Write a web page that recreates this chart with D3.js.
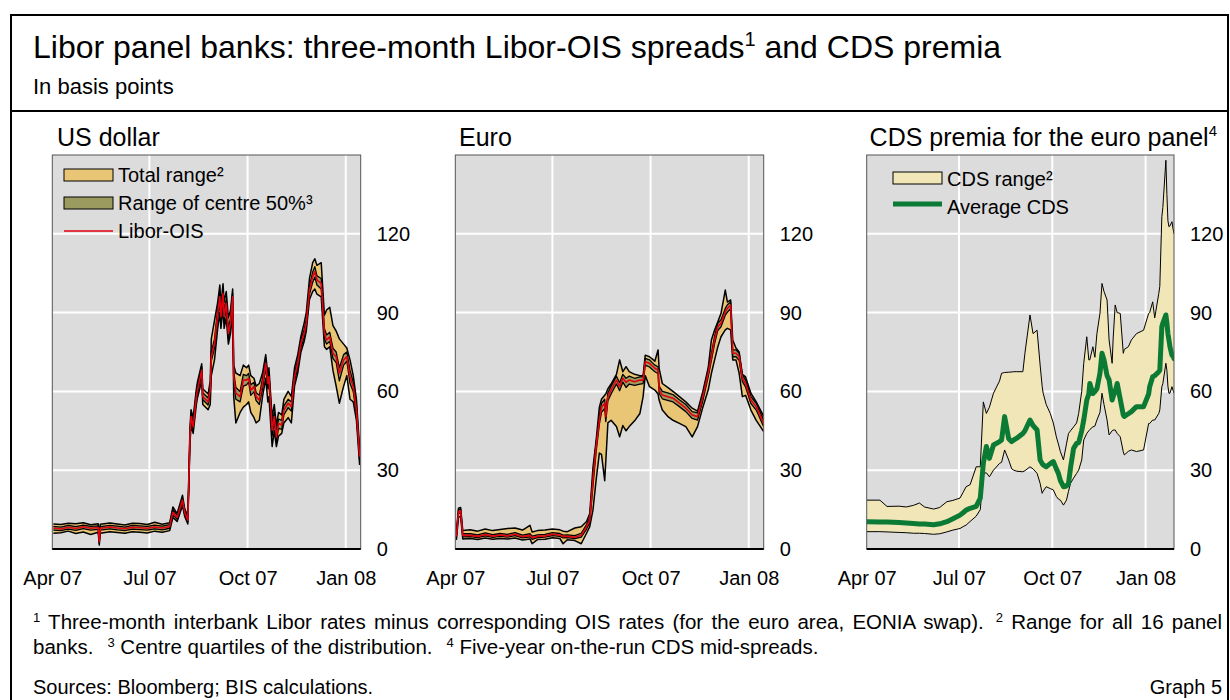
<!DOCTYPE html>
<html>
<head>
<meta charset="utf-8">
<script src="https://cdn.jsdelivr.net/npm/d3@7"></script>
<style>
  body { margin: 0; background: #fff; }
  svg text { font-family: "Liberation Sans", Arial, Helvetica, sans-serif; fill: #000; }
</style>
</head>
<body>
<svg id="chart" width="1230" height="700"></svg>
<script>
// ---- US dollar: three-month Libor-OIS, total range and centre 50% (bp) ----
const usDates = ["2007-04-02","2007-04-09","2007-04-16","2007-04-23","2007-04-30","2007-05-07","2007-05-14","2007-05-15","2007-05-16","2007-05-25",
  "2007-06-01","2007-06-08","2007-06-15","2007-06-22","2007-06-29","2007-07-06","2007-07-13","2007-07-20","2007-07-23","2007-07-27",
  "2007-08-01","2007-08-03","2007-08-06","2007-08-08","2007-08-09","2007-08-11","2007-08-14","2007-08-15","2007-08-19","2007-08-20",
  "2007-08-25","2007-08-27","2007-08-28","2007-08-31","2007-09-03","2007-09-05","2007-09-06","2007-09-08","2007-09-09","2007-09-11",
  "2007-09-13","2007-09-15","2007-09-17","2007-09-18","2007-09-20","2007-09-24","2007-09-27","2007-09-30","2007-10-02","2007-10-04",
  "2007-10-07","2007-10-09","2007-10-12","2007-10-15","2007-10-18","2007-10-20","2007-10-21","2007-10-24","2007-10-26","2007-10-28",
  "2007-10-30","2007-11-02","2007-11-04","2007-11-08","2007-11-11","2007-11-14","2007-11-17","2007-11-20","2007-11-23","2007-11-25",
  "2007-11-28","2007-12-01","2007-12-03","2007-12-05","2007-12-09","2007-12-12","2007-12-14","2007-12-17","2007-12-20","2007-12-23",
  "2007-12-26","2007-12-30","2008-01-02","2008-01-05","2008-01-08","2008-01-11","2008-01-14"];
const usLow = [6.0,6.2,6.8,5.9,6.5,5.5,6.4,1.5,6.0,6.6, 6.3,6.0,6.6,6.4,6.1,6.8,6.4,7.0,12,10.5,
  16.5,12.5,9.5,40,47,44,55,57.5,64,55, 53,55,66,72,84,90,84,92,84,88,
  78,82,90,58,48,52,54,55,56,52, 50,48,49,58,65,56,58,39,45,39,
  43,44,48,50,48,62,67,75,79,83, 95,98,99,97,96,77,76,77,68,62,
  55.5,62,66,57,56,49,32];
const usQ1 = [7.2,7.0,7.6,7.1,7.8,7.2,7.5,2.2,7.2,7.7, 7.3,7.0,7.6,7.4,7.2,7.7,7.3,7.9,13,11.3,
  17.8,13.3,10.3,41.5,49,45.5,56.8,59.2,66.5,56.8, 54.8,58.8,71.5,76.5,88,94,86.5,95.5,86.5,91.5,
  80,84,94,63.5,57,56,62,62.5,63.5,58.5, 59.8,56.5,55,61,69,61,63.5,43,48.5,41,
  46,45.5,51,53.8,52.5,64,69,76.8,80.5,84.5, 97,101.5,103.5,100.5,99,80,78,79,72.5,71,
  64,70,71.5,63,60,51,33.5];
const usLibor = [8.0,7.6,8.3,7.8,8.5,7.9,8.2,2.8,7.9,8.4, 8.0,7.7,8.3,8.1,7.9,8.4,8.0,8.6,14,12,
  18.6,14,11,42.8,50.4,46.6,58,60.5,68,58, 56,60.5,73.2,78.3,89.7,96,88.4,97.3,88.4,93.5,
  82,86,96,65.6,59.3,58,64.3,64.3,65,60.5, 61.8,58,56.7,63,70.7,63,65.6,45.3,50.4,42.7,
  47.8,47.2,52.9,55.5,54.2,65.6,70.7,78.3,82,86, 98.6,103.7,105.6,102.4,101.1,82,79.6,80.8,74.5,73.2,
  66.9,72,73.2,65.6,61.8,52.9,35.1];
const usQ3 = [8.6,8.3,9.0,8.5,9.1,8.6,8.8,3.4,8.5,9.0, 8.7,8.3,9.0,8.8,8.6,9.1,8.7,9.3,15,12.8,
  19.3,14.8,11.8,44,51.5,48,59.5,62,69.5,59.5, 57.5,62,75,80,91.5,98,90,99,90.5,95,
  84,88,97.5,67.5,61.5,60,66.5,66,66.8,62.5, 63.5,59.5,58.5,65,72.5,64.5,67,47.5,52,44.5,
  49.5,49,54.5,57,56,67,72,79.8,83.5,87.5, 100,105.5,107.5,104,103,84,81.5,82.5,76.5,75,
  69,74,75,68,63.5,55,36.5];
const usHigh = [9.5,9.3,9.8,9.6,10.0,9.2,9.6,6.0,9.4,9.9, 9.5,9.1,9.8,9.7,9.3,10.2,9.4,10.0,16,13.5,
  20.5,15.5,12.5,46,53,50,61,63.5,70.5,61, 59,64,80,87,94,100.5,93,101,94,98,
  88,91,99,70,67,66,70,69,70,66, 65,62,63,67,74,66,69,50,55,47,
  52,51,57,60,58,69,74,81,86,90, 103,109,110.5,108,109,89,91,92,85,83,
  80,78,76.5,72,66,57,38];

// ---- Euro: three-month Libor-OIS, total range and centre 50% (bp) ----
const euDates = ["2007-04-02","2007-04-04","2007-04-06","2007-04-08","2007-04-15","2007-04-22","2007-04-29","2007-05-06","2007-05-13","2007-05-20",
  "2007-05-27","2007-06-03","2007-06-10","2007-06-12","2007-06-17","2007-06-24","2007-07-01","2007-07-08","2007-07-11","2007-07-15",
  "2007-07-22","2007-07-28","2007-08-02","2007-08-05","2007-08-08","2007-08-11","2007-08-14","2007-08-16","2007-08-19","2007-08-20",
  "2007-08-22","2007-08-25","2007-08-30","2007-09-02","2007-09-05","2007-09-08","2007-09-11","2007-09-16","2007-09-21","2007-09-24",
  "2007-09-26","2007-09-30","2007-10-05","2007-10-08","2007-10-09","2007-10-12","2007-10-17","2007-10-22","2007-10-28","2007-11-03",
  "2007-11-09","2007-11-14","2007-11-19","2007-11-24","2007-11-27","2007-11-30","2007-12-03","2007-12-06","2007-12-10","2007-12-12",
  "2007-12-15","2007-12-17","2007-12-20","2007-12-23","2007-12-26","2007-12-29","2008-01-03","2008-01-08","2008-01-15"];
const euLow = [3.5,12,12.5,3.8,4.0,3.6,4.2,3.7,4.0,3.8, 4.2,3.4,3.8,2.0,3.6,3.7,4.3,4.0,2.0,3.5,
  3.2,2.0,6.0,8.5,14.8,26.3,36.5,36,26,33, 48,49,46.6,42.7,47,45,46.6,48.8,51.6,58,
  66,61.8,60.5,59,56.7,52.9,50.5,49,47.8,46.6, 42.7,46.6,54,60.5,66.9,72,77,80.8,83.4,84,
  83.4,72,72,66.9,58,58.5,52.9,49,44.7];
const euQ1 = [4.2,13.5,13.8,4.6,4.7,4.3,5.0,4.4,4.8,4.5, 5.1,4.2,4.6,3.7,4.3,4.5,5.1,4.8,4.2,4.3,
  4.0,4.5,7.6,10,24,37,47.5,52,53.5,48.5, 56.5,59,62.8,60.3,63.5,61.5,62.8,62.3,62.8,63,
  70,69.3,67.5,66.8,59.2,57.2,56.6,56,54.2,52.3, 49.7,49.1,56.5,65.5,71.8,78.2,83.2,84.6,89,90.2,
  91.5,73.2,73.2,71.8,63.7,61.7,55.4,52.9,46.5];
const euLibor = [4.7,14.2,14.5,5.2,5.2,4.8,5.5,4.9,5.3,5.0, 5.6,4.7,5.2,4.3,4.8,5.0,5.6,5.3,4.8,4.8,
  4.5,5.2,8.5,11,26.3,39,49,54,55.5,50.4, 58,60.5,64.3,61.8,65,63.5,64.3,63.7,64.3,64.3,
  71.3,70.7,68.8,68.1,60.5,58.6,58,57.4,55.5,53.6, 51,50.4,58,66.9,73.2,79.6,84.6,86,90.3,91.6,
  92.9,74.5,74.5,73.2,65,63,56.7,54.2,47.8];
const euQ3 = [5.3,15,15.2,5.8,5.8,5.4,6.1,5.5,5.9,5.6, 6.2,5.3,5.8,4.9,5.4,5.6,6.2,5.9,5.3,5.4,
  5.1,6.0,9.3,12,28.5,40.5,50.5,55.5,57,52, 59.5,62,65.8,63.3,66.5,65,65.8,65,65.5,65.5,
  72.6,72,70,69.4,62,60,59.4,58.8,56.8,55, 52.3,51.8,59.3,68.2,74.5,81,86,87.3,91.6,93,
  94,75.8,75.8,74.5,66.3,64.3,58,55.5,49];
const euHigh = [6.5,15.5,15.8,7.0,7.3,6.8,7.6,7.0,7.4,7.8, 8.0,7.2,9.0,6.5,7.0,7.2,7.6,7.3,6.8,6.6,
  8.0,8.5,10.5,13.5,31,41.5,54,57,58.5,59, 61,62.8,66.5,72,67.5,69.4,67.5,66.5,66,66,
  73.8,73.2,71.5,75.8,68.8,63,61.5,60,58,56, 53.6,52.5,60,69,79.6,83.4,86.5,89.7,98.6,94,
  94.8,79.6,76.5,75,66.5,65.5,59.3,56,50.5];

// ---- CDS premia for the euro panel: range and average (bp) ----
const cdsDates = ["2007-04-01","2007-04-14","2007-04-21","2007-05-03","2007-05-10","2007-05-17","2007-05-23","2007-05-28","2007-06-06","2007-06-12",
  "2007-06-19","2007-06-25","2007-07-02","2007-07-05","2007-07-08","2007-07-12","2007-07-18","2007-07-22","2007-07-25","2007-07-28",
  "2007-07-31","2007-08-04","2007-08-10","2007-08-12","2007-08-15","2007-08-19","2007-08-22","2007-08-24","2007-08-27","2007-09-02",
  "2007-09-04","2007-09-09","2007-09-12","2007-09-16","2007-09-19","2007-09-21","2007-09-22","2007-09-25","2007-09-29","2007-10-02",
  "2007-10-05","2007-10-07","2007-10-09","2007-10-12","2007-10-15","2007-10-17","2007-10-19","2007-10-22","2007-10-25","2007-10-27",
  "2007-10-30","2007-11-01","2007-11-04","2007-11-06","2007-11-07","2007-11-10","2007-11-12","2007-11-14","2007-11-17","2007-11-19",
  "2007-11-21","2007-11-24","2007-11-26","2007-11-29","2007-11-30","2007-12-02","2007-12-04","2007-12-07","2007-12-10","2007-12-11",
  "2007-12-15","2007-12-18","2007-12-23","2007-12-30","2008-01-04","2008-01-05","2008-01-08","2008-01-10","2008-01-14","2008-01-15",
  "2008-01-17","2008-01-18","2008-01-21","2008-01-22","2008-01-23","2008-01-24","2008-01-25","2008-01-27","2008-01-28","2008-01-29"];
const cdsLow = [6.6,6.6,6.5,6.3,6.2,6.0,6.0,5.9,5.6,5.8, 6.5,7.2,7.8,8.5,9.1,10.5,12.5,15,28.8,29,
  27.5,30,32.6,33,37.7,33.9,30.5,30,29.6,29.4, 29.8,31.3,30.5,28.8,25,21.2,22,23.7,23,22.5,
  20,19,18.6,16.7,18.6,22,25,27,28.8,30, 33.9,41.5,44,45,45.5,46.5,46.8,49.1,52,59.3,
  55,49.1,43.4,45,45.3,45.3,44,42.7,37,35.8, 37.2,37.7,37.1,37.7,47.8,47.8,49.1,49.1,51.6,53,
  61.8,63,70.7,68,62,59.3,59.3,61.8,60.5,59.3];
const cdsAverage = [10.4,10.3,10.3,10.1,9.9,9.7,9.5,9.5,9.2,9.6, 10.4,11.5,12.9,13.8,14.8,15.5,16.2,19.4,32.6,39,
  34.5,39.6,40.9,41.5,50.4,42,40.9,41.5,42.2,44, 45,49.1,47,45.3,33.9,32.5,32,31.3,32.5,33.3,
  30.5,28.8,26,23.7,24,25,31,38.3,40.2,40.5, 45,49.1,56.7,59,63,59.2,60,61,66.9,74.5,
  72,66,64.4,56.7,58,60,63,57,51,50.5, 51.5,52.3,54.2,54.2,59,61.8,65.6,66,67.5,68.1,
  84.6,86,89.1,86,82,79.6,77,73.8,73.5,72.5];
const cdsHigh = [18.6,18.6,16.2,16.3,16.0,16.6,17.5,16.0,15.2,15.8, 18.0,18.5,19.4,21.5,23.7,24.5,31.3,31.3,56,51.6,
  54,59.3,64,66.9,67.2,67.3,67.4,67.5,67.5,67.5, 74.5,89.1,82,83.3,70,62,59.3,55,51.6,48,
  42.7,40,37,33.9,40,44,45,46.5,48,51.6, 60,70.7,80.8,72,72,77,73,82,89.7,101.1,
  98,94.8,79.6,70.7,80,92.9,90,89.7,74.5,76, 77,79.6,82,83.3,89.7,90,94.1,88,97.3,100,
  126.5,130,148,135,125,122.7,123,124.6,122,120];

const yTicks = [0, 30, 60, 90, 120];
const xTickDates = ["2007-04-01", "2007-07-01", "2007-10-01", "2008-01-01"];

const parse = d3.utcParse("%Y-%m-%d");
const svg = d3.select("#chart");
const FONT = '"Liberation Sans", Arial, Helvetica, sans-serif';

// outer frame and heading rule
svg.append("rect").attr("x", 11).attr("y", 15).attr("width", 1217).attr("height", 700)
  .attr("fill", "none").attr("stroke", "#000").attr("stroke-width", 2);
svg.append("line").attr("x1", 11).attr("x2", 1228).attr("y1", 111).attr("y2", 111)
  .attr("stroke", "#000").attr("stroke-width", 2);

// text with superscript pieces: parts = [[text, isSup], ...]
function richText(sel, parts, size, supSize, rise) {
  parts.forEach(([t, sup], i) => {
    const prevSup = i > 0 && parts[i - 1][1];
    const ts = sel.append("tspan").text(t)
      .attr("font-size", sup ? supSize : size);
    if (sup && !prevSup) ts.attr("dy", -rise);
    else if (!sup && prevSup) ts.attr("dy", rise);
  });
  return sel;
}

richText(svg.append("text").attr("x", 33).attr("y", 58),
  [["Libor panel banks: three-month Libor-OIS spreads", false], ["1", true], [" and CDS premia", false]], 32, 20, 12);
svg.append("text").attr("x", 33).attr("y", 94).attr("font-size", 22).text("In basis points");

const y = d3.scaleLinear().domain([0, 150]).range([549, 155]);

function panel(opts) {
  const x = d3.scaleUtc().domain([parse("2007-04-01"), parse(opts.end)]).range([opts.left, opts.right]);
  const g = svg.append("g");
  const id = "clip-" + opts.key;
  svg.append("clipPath").attr("id", id).append("rect")
    .attr("x", opts.left).attr("y", 155).attr("width", opts.right - opts.left).attr("height", 394);

  g.append("rect").attr("x", opts.left).attr("y", 155).attr("width", opts.right - opts.left).attr("height", 394)
    .attr("fill", "#dcdcdc");
  // grid
  g.selectAll(".hg").data(yTicks.filter(v => v > 0)).join("line")
    .attr("x1", opts.left).attr("x2", opts.right).attr("y1", d => y(d)).attr("y2", d => y(d))
    .attr("stroke", "#fff").attr("stroke-width", 2);
  g.selectAll(".vg").data(xTickDates.slice(1)).join("line")
    .attr("x1", d => x(parse(d))).attr("x2", d => x(parse(d))).attr("y1", 155).attr("y2", 549)
    .attr("stroke", "#fff").attr("stroke-width", 2);

  const plot = g.append("g").attr("clip-path", `url(#${id})`);
  opts.draw(plot, x);

  g.append("rect").attr("x", opts.left).attr("y", 155).attr("width", opts.right - opts.left).attr("height", 394)
    .attr("fill", "none").attr("stroke", "#555").attr("stroke-width", 1);
  g.append("line").attr("x1", opts.left).attr("x2", opts.right).attr("y1", 549).attr("y2", 549)
    .attr("stroke", "#000").attr("stroke-width", 2);

  // axes
  const ya = g.append("g").attr("transform", `translate(${opts.right},0)`)
    .call(d3.axisRight(y).tickValues(yTicks).tickSize(0).tickPadding(16));
  ya.select(".domain").remove();
  ya.selectAll("text").attr("font-size", 20).attr("font-family", FONT).attr("fill", "#000");
  const xa = g.append("g").attr("transform", "translate(0,549)")
    .call(d3.axisBottom(x).tickValues(xTickDates.map(parse)).tickFormat(d3.utcFormat("%b %y")).tickSize(0).tickPadding(22));
  xa.select(".domain").remove();
  xa.selectAll("text").attr("font-size", 20).attr("font-family", FONT).attr("fill", "#000");
  return g;
}

function bandPanel(plot, x, dates, lo, q1, mid, q3, hi) {
  const rows = dates.map((d, i) => ({ date: parse(d), lo: lo[i], q1: q1[i], mid: mid[i], q3: q3[i], hi: hi[i] }));
  const area = (a, b) => d3.area().x(d => x(d.date)).y0(d => y(d[a])).y1(d => y(d[b]));
  const line = k => d3.line().x(d => x(d.date)).y(d => y(d[k]));
  plot.append("path").datum(rows).attr("d", area("lo", "hi")).attr("fill", "#e8c676");
  ["lo", "hi"].forEach(k => plot.append("path").datum(rows).attr("d", line(k))
    .attr("fill", "none").attr("stroke", "#000").attr("stroke-width", 1.5).attr("stroke-linejoin", "round"));
  plot.append("path").datum(rows).attr("d", area("q1", "q3")).attr("fill", "#9b9b5f");
  ["q1", "q3"].forEach(k => plot.append("path").datum(rows).attr("d", line(k))
    .attr("fill", "none").attr("stroke", "#000").attr("stroke-width", 1.3).attr("stroke-linejoin", "round"));
  plot.append("path").datum(rows).attr("d", line("mid"))
    .attr("fill", "none").attr("stroke", "#e3000f").attr("stroke-width", 1.6).attr("stroke-linejoin", "round");
}

// US dollar
panel({ key: "us", left: 52.3, right: 360.7, end: "2008-01-15",
  draw: (p, x) => bandPanel(p, x, usDates, usLow, usQ1, usLibor, usQ3, usHigh) });
svg.append("text").attr("x", 57).attr("y", 146).attr("font-size", 25).text("US dollar");

// legend for the Libor panels
const legend = svg.append("g");
legend.append("rect").attr("x", 64).attr("y", 169).attr("width", 49).attr("height", 12)
  .attr("fill", "#e8c676").attr("stroke", "#000").attr("stroke-width", 1);
legend.append("rect").attr("x", 64).attr("y", 197).attr("width", 49).attr("height", 12)
  .attr("fill", "#9b9b5f").attr("stroke", "#000").attr("stroke-width", 1);
legend.append("line").attr("x1", 64).attr("x2", 113).attr("y1", 231).attr("y2", 231)
  .attr("stroke", "#e3000f").attr("stroke-width", 1.3);
[["Total range²", 182], ["Range of centre 50%³", 210], ["Libor-OIS", 238]].forEach(([t, yy]) =>
  legend.append("text").attr("x", 118).attr("y", yy).attr("font-size", 20).text(t));

// Euro
panel({ key: "eu", left: 455.3, right: 763.7, end: "2008-01-15",
  draw: (p, x) => bandPanel(p, x, euDates, euLow, euQ1, euLibor, euQ3, euHigh) });
svg.append("text").attr("x", 459).attr("y", 146).attr("font-size", 25).text("Euro");

// CDS premia
panel({ key: "cds", left: 866.7, right: 1174, end: "2008-01-29",
  draw: (p, x) => {
    const rows = cdsDates.map((d, i) => ({ date: parse(d), lo: cdsLow[i], avg: cdsAverage[i], hi: cdsHigh[i] }));
    p.append("path").datum(rows)
      .attr("d", d3.area().x(d => x(d.date)).y0(d => y(d.lo)).y1(d => y(d.hi)))
      .attr("fill", "#f1e6b7");
    ["lo", "hi"].forEach(k => p.append("path").datum(rows)
      .attr("d", d3.line().x(d => x(d.date)).y(d => y(d[k])))
      .attr("fill", "none").attr("stroke", "#000").attr("stroke-width", 1));
    p.append("path").datum(rows)
      .attr("d", d3.line().x(d => x(d.date)).y(d => y(d.avg)))
      .attr("fill", "none").attr("stroke", "#0b7a34").attr("stroke-width", 5)
      .attr("stroke-linejoin", "round").attr("stroke-linecap", "round");
  } });
richText(svg.append("text").attr("x", 1217).attr("y", 146).attr("text-anchor", "end"),
  [["CDS premia for the euro panel", false], ["4", true]], 25, 15, 10);

const cdsLegend = svg.append("g");
cdsLegend.append("rect").attr("x", 893).attr("y", 172).attr("width", 49).attr("height", 12)
  .attr("fill", "#f1e6b7").attr("stroke", "#000").attr("stroke-width", 1);
cdsLegend.append("line").attr("x1", 893).attr("x2", 942).attr("y1", 204).attr("y2", 204)
  .attr("stroke", "#0b7a34").attr("stroke-width", 5);
[["CDS range²", 186], ["Average CDS", 214]].forEach(([t, yy]) =>
  cdsLegend.append("text").attr("x", 947).attr("y", yy).attr("font-size", 20).text(t));

// footnotes
const FN = 20.5;
const fn1 = svg.append("text").attr("x", 33).attr("y", 629).attr("font-size", FN);
fn1.append("tspan").attr("dy", -7).attr("font-size", 13).text("1");
fn1.append("tspan").attr("dy", 7).text(" Three-month interbank Libor rates minus corresponding OIS rates (for the euro area, EONIA swap).");
fn1.append("tspan").attr("dx", 12).attr("dy", -7).attr("font-size", 13).text("2");
fn1.append("tspan").attr("dy", 7).text(" Range for all 16 panel");
// justify the first line across the frame
const target = 1222 - 33;
const spaces = (fn1.text().match(/ /g) || []).length;
let ws = 0;
for (let k = 0; k < 3; k++) {
  const w = fn1.node().getBBox().width;
  ws += (target - w) / spaces;
  fn1.attr("word-spacing", ws);
}

const fn2 = svg.append("text").attr("x", 33).attr("y", 654).attr("font-size", FN);
fn2.append("tspan").text("banks.");
fn2.append("tspan").attr("dx", 14).attr("dy", -7).attr("font-size", 13).text("3");
fn2.append("tspan").attr("dy", 7).text(" Centre quartiles of the distribution.");
fn2.append("tspan").attr("dx", 14).attr("dy", -7).attr("font-size", 13).text("4");
fn2.append("tspan").attr("dy", 7).text(" Five-year on-the-run CDS mid-spreads.");

svg.append("text").attr("x", 33).attr("y", 694).attr("font-size", 20).text("Sources: Bloomberg; BIS calculations.");
svg.append("text").attr("x", 1222).attr("y", 694).attr("font-size", 20).attr("text-anchor", "end").text("Graph 5");
</script>
</body>
</html>
